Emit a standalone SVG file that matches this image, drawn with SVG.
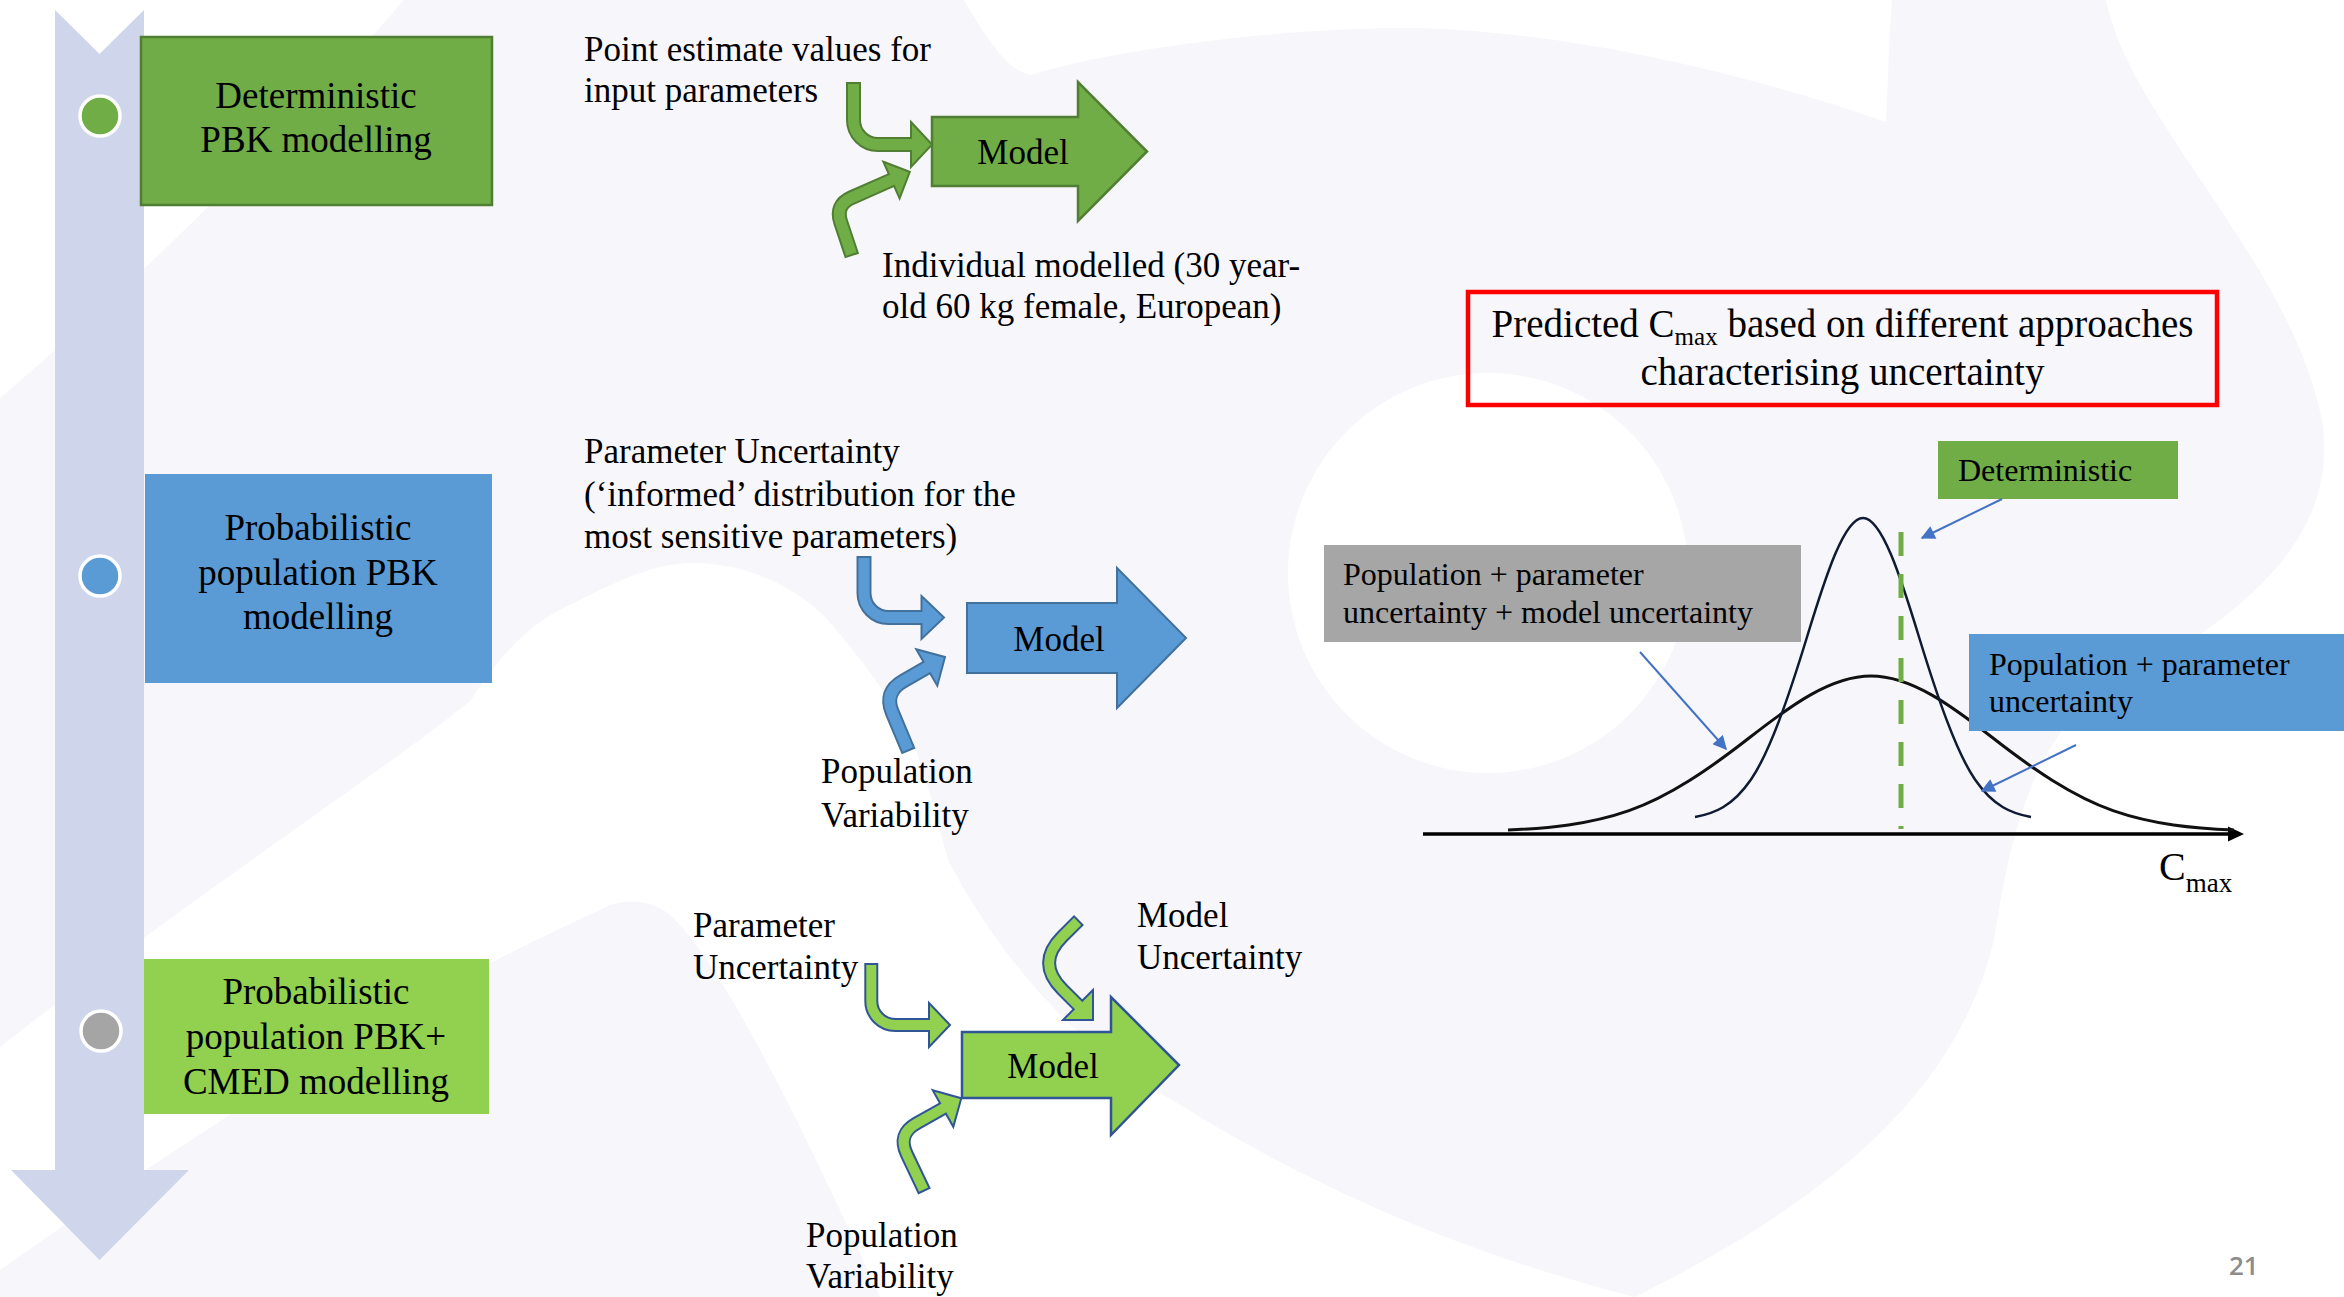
<svg xmlns="http://www.w3.org/2000/svg" width="2344" height="1297" viewBox="0 0 2344 1297">
<defs>
<style>
text{font-family:"Liberation Serif","Times New Roman",serif;fill:#000}
.lbl{font-size:35px}
.box{font-size:37px;text-anchor:middle}
.mdl{font-size:35px;text-anchor:middle}
.chart{font-size:32px}
.ttl{font-size:39px;text-anchor:middle}
.num{font-family:"Open Sans","DejaVu Sans",sans-serif;font-size:26px;fill:#8c8c8c;font-weight:600}
.sd{fill:none;stroke-width:15}
.sf{fill:none;stroke-width:11}
.sd3{fill:none;stroke-width:14}
.sf3{fill:none;stroke-width:10}
.gD{stroke:#507e32}.gF{stroke:#70ad47}
.bD{stroke:#41719c}.bF{stroke:#5b9bd5}
.lD{stroke:#2f5597}.lF{stroke:#92d050}
.h1{fill:#70ad47;stroke:#507e32;stroke-width:2}
.h2{fill:#5b9bd5;stroke:#41719c;stroke-width:2}
.h3{fill:#92d050;stroke:#2f5597;stroke-width:2}
.ptr{fill:none;stroke:#4472c4;stroke-width:2;marker-end:url(#ah)}
.dot{stroke:#ffffff;stroke-width:3.5}
</style>
<marker id="ah" viewBox="0 0 10 10" refX="9" refY="5" markerWidth="8" markerHeight="7" orient="auto" markerUnits="strokeWidth">
<path d="M0,0 L10,5 L0,10 z" fill="#4472c4"/>
</marker>
</defs>

<g id="background">
<rect width="2344" height="1297" fill="#f7f6fa"/>
<g fill="#ffffff">
<path d="M0,0 L404,0 C300,120 150,270 0,398 Z"/>
<path d="M964,0 C990,45 1010,72 1031,75 C1100,52 1280,26 1420,28 C1600,34 1780,85 1886,122 C1888,80 1889,40 1892,0 Z"/>
<path d="M2106,0 C2130,120 2290,260 2322,420 C2344,560 2200,640 2090,700 C2020,760 2004,880 1994,940 C1960,1080 1850,1190 1635,1297 L2344,1297 L2344,0 Z"/>
<circle cx="1488" cy="573" r="200"/>
<path d="M0,1047 C200,890 400,760 471,700 C490,670 520,630 560,610 C610,585 650,563 694,563 C750,563 800,590 828,620 C870,670 900,710 917,753 C930,790 940,830 948,860 C1000,960 1080,1050 1172,1100 C1300,1180 1450,1250 1635,1297 L880,1297 C800,1120 720,960 670,915 C650,898 620,898 600,910 C400,1000 200,1130 0,1270 Z"/>
</g>
</g>

<g id="timeline">
<polygon points="55,10 99.5,54 144,10 144,1170 189,1170 99.5,1260 11,1170 55,1170" fill="#cfd5ea"/>
<circle class="dot" cx="100" cy="116" r="20" fill="#70ad47"/>
<circle class="dot" cx="100" cy="576" r="20" fill="#5b9bd5"/>
<circle class="dot" cx="101" cy="1031" r="20" fill="#a5a5a5"/>
</g>

<g id="node-deterministic">
<rect x="141" y="37" width="351" height="168" fill="#70ad47" stroke="#507e32" stroke-width="2.5"/>
<text class="box" x="316" y="108">Deterministic</text>
<text class="box" x="316" y="152">PBK modelling</text>
</g>

<g id="node-probabilistic">
<rect x="145" y="474" width="347" height="209" fill="#5b9bd5"/>
<text class="box" x="318" y="540">Probabilistic</text>
<text class="box" x="318" y="585">population PBK</text>
<text class="box" x="318" y="629">modelling</text>
</g>

<g id="node-cmed">
<rect x="144" y="959" width="345" height="155" fill="#92d050"/>
<text class="box" x="316" y="1004">Probabilistic</text>
<text class="box" x="316" y="1049">population PBK+</text>
<text class="box" x="316" y="1094">CMED modelling</text>
</g>

<g id="labels-row1">
<text class="lbl" x="584" y="61">Point estimate values for</text>
<text class="lbl" x="584" y="102">input parameters</text>
<text class="lbl" x="882" y="277">Individual modelled (30 year-</text>
<text class="lbl" x="882" y="318">old 60 kg female, European)</text>
</g>

<g id="labels-row2">
<text class="lbl" x="584" y="463">Parameter Uncertainty</text>
<text class="lbl" x="584" y="506">(‘informed’ distribution for the</text>
<text class="lbl" x="584" y="548">most sensitive parameters)</text>
<text class="lbl" x="821" y="783">Population</text>
<text class="lbl" x="821" y="827">Variability</text>
</g>

<g id="labels-row3">
<text class="lbl" x="693" y="937">Parameter</text>
<text class="lbl" x="693" y="979">Uncertainty</text>
<text class="lbl" x="1137" y="927">Model</text>
<text class="lbl" x="1137" y="969">Uncertainty</text>
<text class="lbl" x="806" y="1247">Population</text>
<text class="lbl" x="806" y="1288">Variability</text>
</g>

<g id="node-model1">
<polygon points="932,117 1078,117 1078,82 1147,151.5 1078,221 1078,186 932,186" fill="#70ad47" stroke="#507e32" stroke-width="2.5"/>
<text class="mdl" x="1023" y="164">Model</text>
</g>
<g id="node-model2">
<polygon points="967,603 1117,603 1117,568 1186,638 1117,708 1117,673 967,673" fill="#5b9bd5" stroke="#41719c" stroke-width="2"/>
<text class="mdl" x="1059" y="651">Model</text>
</g>
<g id="node-model3">
<polygon points="962,1032 1111,1032 1111,997 1179,1065 1111,1135 1111,1098 962,1098" fill="#92d050" stroke="#2f5597" stroke-width="2.5"/>
<text class="mdl" x="1053" y="1078">Model</text>
</g>

<g id="connectors">
<path class="sd gD" d="M853.5,82 L853.5,120 A24.5,24.5 0 0 0 878,144.5 L911,144.5"/>
<polygon class="h1" points="911,122 932,144.5 911,167"/>
<path class="sf gF" d="M853.5,84 L853.5,120 A24.5,24.5 0 0 0 878,144.5 L915,144.5"/>

<path class="sd gD" d="M852,256 L840.7,222.1 Q835,205 851.5,197.7 L891.5,180"/>
<polygon class="h1" points="883.4,161.7 909.8,171.9 899.6,198.3"/>
<path class="sf gF" d="M851.4,254.1 L840.7,222.1 Q835,205 851.5,197.7 L894.2,178.8"/>

<path class="sd bD" d="M864,556 L864,593 A24.5,24.5 0 0 0 888.5,617.5 L921.5,617.5"/>
<polygon class="h2" points="921.5,596 944,617.5 921.5,639"/>
<path class="sf bF" d="M864,558 L864,593 A24.5,24.5 0 0 0 888.5,617.5 L925,617.5"/>

<path class="sd bD" d="M908.6,751.3 L892.3,712.5 Q883.8,692.2 902.9,681.2 L926.8,667.5"/>
<polygon class="h2" points="916.3,649.3 945,657 937.3,685.7"/>
<path class="sf bF" d="M907.8,749.5 L892.3,712.5 Q883.8,692.2 902.9,681.2 L929.4,666"/>

<path class="sd3 lD" d="M871.3,963 L871.3,1001 A24,24 0 0 0 895.3,1025 L929,1025"/>
<polygon class="h3" points="929,1003 950,1025 929,1047"/>
<path class="sf3 lF" d="M871.3,965 L871.3,1001 A24,24 0 0 0 895.3,1025 L932,1025"/>

<path class="sd3 lD" d="M1079,920 L1062.2,936.8 Q1036,963 1062.2,989.2 L1078,1005"/>
<polygon class="h3" points="1093,990 1093,1020 1063,1020"/>
<path class="sf3 lF" d="M1077.6,921.4 L1062.2,936.8 Q1036,963 1062.2,989.2 L1080.1,1007.1"/>

<path class="sd3 lD" d="M924.5,1191.5 L906.7,1154.1 Q897.3,1134.2 916.5,1123.4 L943,1108.5"/>
<polygon class="h3" points="932.7,1090.2 961.3,1098.2 953.3,1126.8"/>
<path class="sf3 lF" d="M923.6,1189.7 L906.7,1154.1 Q897.3,1134.2 916.5,1123.4 L945.6,1107"/>
</g>

<g id="chart">
<g id="node-title">
<rect x="1468" y="292" width="749" height="113" fill="none" stroke="#ff0000" stroke-width="4.5"/>
<text class="ttl" x="1842.5" y="337">Predicted C<tspan font-size="25" dy="8">max</tspan><tspan dy="-8"> based on different approaches</tspan></text>
<text class="ttl" x="1842.5" y="385">characterising uncertainty</text>
</g>
<g id="axis">
<line x1="1423" y1="834" x2="2232" y2="834" stroke="#000" stroke-width="3.5"/>
<polygon points="2228,826.5 2244,834 2228,841.5" fill="#000"/>
<text x="2159" y="880" font-size="40">C<tspan font-size="27" dy="12">max</tspan></text>
</g>
<path id="curve-wide" d="M1508,830 C1548.3,828.2 1588.7,824.7 1629,810.6 C1669.3,796.6 1709.7,768.8 1750,737.3 C1790.3,705.8 1830.7,676 1871,676 C1911.3,676 1951.7,705.8 1992,737.3 C2032.3,768.8 2072.7,796.6 2113,810.6 C2153.3,824.7 2193.7,828.2 2234,830" fill="none" stroke="#111" stroke-width="3"/>
<path id="curve-narrow" d="M1695,817 C1713.7,813.7 1732.3,806.8 1751,779.5 C1769.7,752.2 1788.3,698.1 1807,637 C1825.7,575.9 1844.3,518 1863,518 C1881.7,518 1900.3,575.9 1919,637 C1937.7,698.1 1956.3,752.2 1975,779.5 C1993.7,806.8 2012.3,813.7 2031,817" fill="none" stroke="#0f1a33" stroke-width="2.5"/>
<line id="deterministic-line" x1="1901" y1="532" x2="1901" y2="829" stroke="#70ad47" stroke-width="5" stroke-dasharray="24 18"/>
<g id="node-legend-det">
<rect x="1938" y="441" width="240" height="58" fill="#70ad47"/>
<text class="chart" x="1958" y="481">Deterministic</text>
</g>
<g id="node-legend-grey">
<rect x="1324" y="545" width="477" height="97" fill="#a6a6a6"/>
<text class="chart" x="1343" y="585">Population + parameter</text>
<text class="chart" x="1343" y="623">uncertainty + model uncertainty</text>
</g>
<g id="node-legend-blue">
<rect x="1969" y="634" width="375" height="97" fill="#5b9bd5"/>
<text class="chart" x="1989" y="675">Population + parameter</text>
<text class="chart" x="1989" y="712">uncertainty</text>
</g>
<g id="pointers">
<line class="ptr" x1="2002" y1="499" x2="1922" y2="538"/>
<line class="ptr" x1="1640" y1="652" x2="1726" y2="749"/>
<line class="ptr" x1="2076" y1="745" x2="1982" y2="791"/>
</g>
</g>

<text class="num" x="2229" y="1275">21</text>
</svg>
